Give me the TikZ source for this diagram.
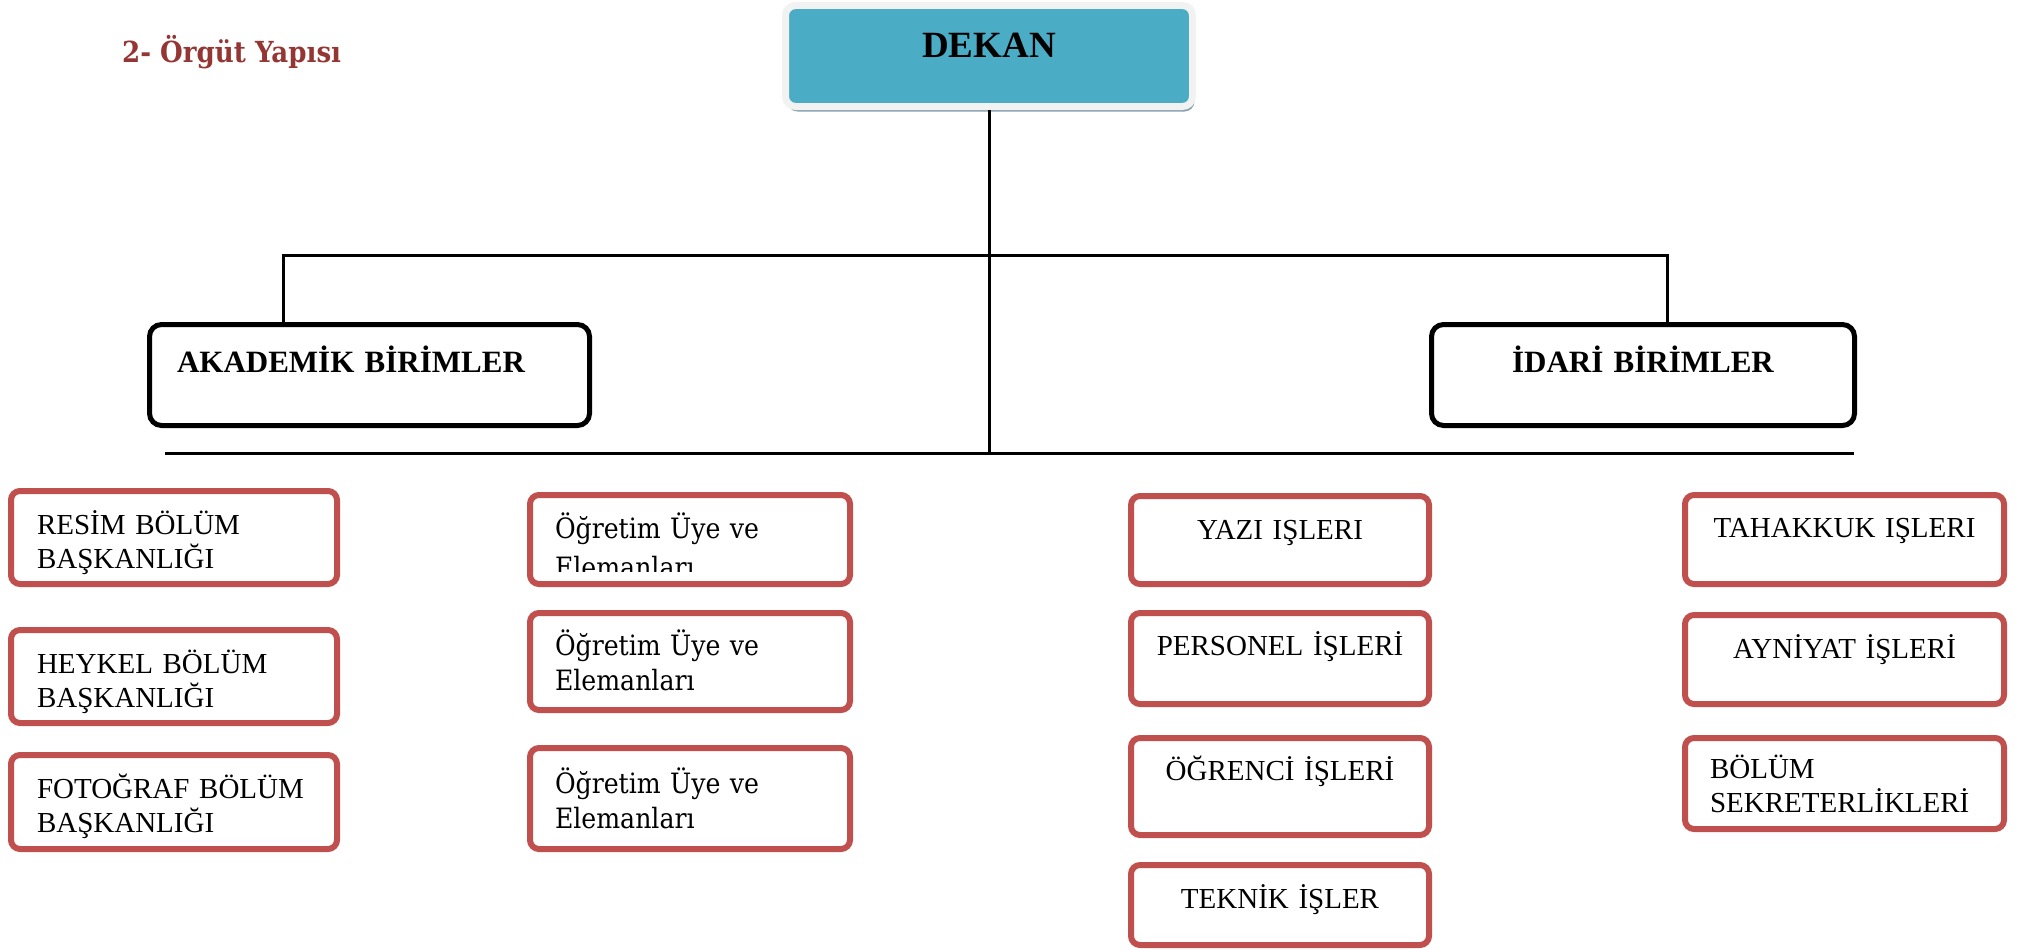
\documentclass[tikz,border=0pt]{standalone}
\usepackage{fontspec}
\setmainfont{Liberation Serif}
\newfontfamily\cambria{DejaVu Serif Condensed}
\usetikzlibrary{positioning}
\usetikzlibrary{shadows}

\definecolor{baslikrenk}{HTML}{943634}
\definecolor{kutukenar}{HTML}{C0504D}
\definecolor{dekanmavi}{HTML}{4BACC6}
\definecolor{dekankenar}{HTML}{F2F2F2}
\definecolor{dekangolge}{HTML}{87A2AE}

\begin{document}
\begin{tikzpicture}[x=1pt, y=-1pt]
	\useasboundingbox (0,0) rectangle (2019,950);

	\node[anchor=base west, text=baslikrenk, inner sep=0pt,
	      font=\cambria\bfseries\fontsize{29}{34}\selectfont] (baslik) at (122,63) {2- Örgüt Yapısı};

	\node[anchor=north west, draw=dekankenar, fill=dekanmavi, line width=7pt,
	      rounded corners=10pt, minimum width=407pt, inner sep=0pt,
	      text height=52.5pt, text depth=48.5pt,
	      drop shadow={shadow xshift=2pt, shadow yshift=-5pt, fill=dekangolge, opacity=1},
	      font=\bfseries\fontsize{37}{40}\selectfont] (dekan) at (782,2) {DEKAN};

	\begin{scope}[every node/.style={anchor=north west, draw=black, line width=5pt,
	              rounded corners=12pt, inner xsep=27.5pt, inner ysep=0pt,
	              text height=47.5pt, text depth=53.5pt,
	              font=\bfseries\fontsize{31}{36}\selectfont}]
		\node[text width=385pt, align=left] (akademik) at (147,322) {AKADEMİK BİRİMLER};
		\node[text width=368pt, align=center] (idari) at (1429,322) {İDARİ BİRİMLER};
	\end{scope}

	\begin{scope}[line width=3pt]
		\coordinate (ustsol) at (283,255);
		\coordinate (ustsag) at (1667,255);
		\coordinate (altsol) at (165,453);
		\coordinate (altsag) at (1854,453);
		\draw (dekan.south) -- (dekan.south |- altsol);
		\draw (altsol) -- (altsag);
		\draw (akademik.north -| ustsol) -- (ustsol) -- (ustsag) -- (idari.north -| ustsag);
	\end{scope}

	\begin{scope}[every node/.style={anchor=north west, draw=kutukenar, fill=white, line width=6pt,
	              rounded corners=9pt, inner xsep=26pt, inner ysep=0pt, text height=43pt,
	              text width=274pt, align=left, font=\fontsize{29}{34}\selectfont}]
		\node[text depth=50pt] (resim) at (8,488) {RESİM BÖLÜM\\BAŞKANLIĞI};
		\node[text depth=50pt] (heykel) at (8,627) {HEYKEL BÖLÜM\\BAŞKANLIĞI};
		\node[text depth=51pt] (fotograf) at (8,752) {FOTOĞRAF BÖLÜM\\BAŞKANLIĞI};
	\end{scope}

	\begin{scope}[every node/.style={anchor=north west, draw=kutukenar, fill=white, line width=6pt,
	              rounded corners=9pt, inner xsep=25pt, inner ysep=0pt,
	              text width=270pt, align=left, font=\cambria\fontsize{28}{35}\selectfont}]
		\node[text height=43pt, text depth=46pt] (ogretim1) at (527,492) {Öğretim Üye ve\\[4pt]Elemanları};
		\node[text height=42pt, text depth=55pt] (ogretim2) at (527,610) {Öğretim Üye ve\\Elemanları};
		\node[text height=45pt, text depth=56pt] (ogretim3) at (527,745) {Öğretim Üye ve\\Elemanları};
	\end{scope}
	\fill[white] ([xshift=20pt,yshift=6pt]ogretim1.south west) rectangle ([xshift=-20pt,yshift=15pt]ogretim1.south east);

	\begin{scope}[every node/.style={anchor=north west, draw=kutukenar, fill=white, line width=6pt,
	              rounded corners=9pt, inner xsep=10pt, inner ysep=0pt,
	              text width=278pt, align=center, font=\fontsize{29}{34}\selectfont}]
		\node[text height=43pt, text depth=45pt] (yazi) at (1128,493) {YAZI IŞLERI};
		\node[text height=42pt, text depth=49pt] (personel) at (1128,610) {PERSONEL İŞLERİ};
		\node[text height=42pt, text depth=55pt] (ogrenci) at (1128,735) {ÖĞRENCİ İŞLERİ};
		\node[text height=43pt, text depth=37pt] (teknik) at (1128,862) {TEKNİK İŞLER};
	\end{scope}

	\begin{scope}[every node/.style={anchor=north west, draw=kutukenar, fill=white, line width=6pt,
	              rounded corners=9pt, inner xsep=10pt, inner ysep=0pt,
	              text width=299pt, align=center, font=\fontsize{29}{34}\selectfont}]
		\node[text height=42pt, text depth=47pt] (tahakkuk) at (1682,492) {TAHAKKUK IŞLERI};
		\node[text height=43pt, text depth=46pt] (ayniyat) at (1682,612) {AYNİYAT İŞLERİ};
		\node[inner xsep=25pt, text width=269pt, align=left, text height=40pt, text depth=51pt] (sekreter) at (1682,735) {BÖLÜM\\SEKRETERLİKLERİ};
	\end{scope}
\end{tikzpicture}
\end{document}
